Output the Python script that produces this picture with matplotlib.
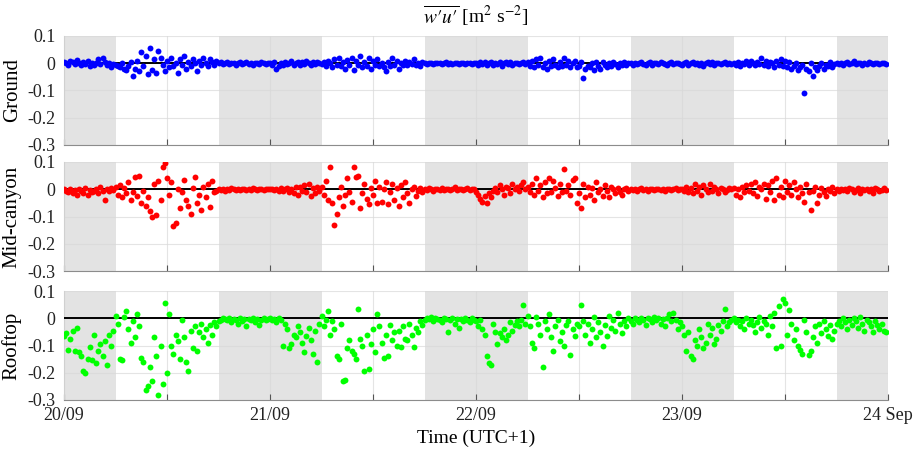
import matplotlib

matplotlib.use("Agg")
import matplotlib.pyplot as plt
import matplotlib.dates as mdates
import numpy as np
import pandas as pd

plt.rcParams["font.family"] = ["Liberation Serif", "DejaVu Serif"]
plt.rcParams["mathtext.fontset"] = "stix"
plt.rcParams["axes.unicode_minus"] = False

START = pd.Timestamp("2019-09-20 00:00")
BLOCK_HOURS = 6  # each inner list below is one 6 h block of 15 min samples

# w'u' in units of 1e-3 m2 s-2 (00-06, 06-12, 12-18, 18-24 each day)
ground_milli = [
    [5, 0, -5, 10, 3, -3, 12, 0, -8, 5, -2, 10, -10, 2, -5, 0, 15, -3, 20, 5, -8, 0, -15, -2],
    [-5, -10, -15, 0, -20, -25, -10, 5, -45, -20, 10, -30, 40, -10, 25, -40, 55, -25, 15, -35, 45, 20, -5, -30],
    [10, -15, 20, -10, 0, -35, 15, -5, 25, -20, 5, -10, 15, 0, -30, 10, -5, 20, 0, -10, 15, 5, -5, 10],
    [0, 3, -2, 0, 5, -3, 0, 2, -5, 0, 3, -2, 0, 4, -1, 0, -6, 2, 0, -3, 5, 0, -2, 1],
    [0, -5, 3, -20, -10, 2, -5, 5, -3, 0, 8, -5, 0, 5, -8, 3, -2, 10, 0, -5, 3, -3, 5, 0],
    [-3, 5, -10, 10, 0, -15, 15, -5, 20, -10, 5, -20, 12, -8, 18, -25, 10, -5, 25, -15, 5, -10, 20, -20],
    [10, -5, 15, -10, 0, -15, -30, 5, -10, 20, -5, 10, -20, 0, -5, 10, -8, 5, -3, 15, -5, 0, -10, 5],
    [0, -2, 2, 0, -3, 1, 0, 2, -2, 0, 3, -1, 0, -3, 2, 0, -2, 1, 0, -1, 2, 0, -2, 1],
    [0, -5, 3, -3, 5, -8, 0, 3, -5, 2, -3, 5, -10, 0, 3, -2, 5, -5, 0, 2, -3, 0, 5, -2],
    [5, -10, 10, -15, 15, -5, 20, -15, 0, -20, 10, -10, 15, -5, -15, 5, -10, 20, -5, 10, -12, 0, 8, -15],
    [-10, 5, -55, -20, -10, -15, 0, -25, 5, -10, -20, 3, -5, -15, 0, -10, 5, -3, -12, 0, -5, 3, -8, 0],
    [0, -5, 2, -3, 0, 5, -2, -8, 0, 3, -5, 0, 2, -3, 5, 0, -2, -6, 0, 3, -4, 0, 2, -2],
    [-5, 0, 3, -8, 0, 5, -3, 0, -5, 2, -10, 0, 3, -2, 5, -5, 0, 2, -3, 0, 5, -2, 0, -3],
    [0, -5, 5, -10, 0, -3, 8, -5, 10, 0, -8, 5, -3, 20, -5, 10, -10, 5, 0, -15, 10, -5, 15, -10],
    [10, -15, 5, -20, -10, 0, -25, -15, -5, -110, -20, -30, 0, -45, -15, -25, -10, 0, -20, -5, -10, 5, -15, -2],
    [0, -3, 2, -5, 0, 3, -2, 0, 10, -3, 0, 2, -5, 0, -2, 3, 0, -4, 2, 0, -3, 1, 0, -2],
]

midcanyon_milli = [
    [0, -5, -10, 2, -15, -3, -20, 0, -8, -12, 5, -20, -2, -10, -6, 0, -15, 10, -5, -40, 0, -8, 5, -3],
    [10, -20, 15, -30, 5, -15, 25, -40, -10, 45, -25, 50, -50, -5, -60, -30, -80, -100, 20, -95, 30, -40, 80, 95],
    [40, -20, 25, -135, -125, 0, -70, -10, 35, -40, -60, -90, 5, 45, -50, -20, -75, 10, -30, 20, -65, 30, -10, -5],
    [0, -3, 2, -5, 0, -2, 3, 0, -4, 1, -2, 0, 2, -3, 0, -1, 3, 0, -2, 1, 0, -3, 2, 0],
    [0, 2, -3, 0, -5, 3, -8, 0, 5, -10, 2, -15, 8, -20, 10, -5, 15, -10, 20, -25, 5, -15, 10, -5],
    [10, -20, 30, -40, 80, -50, -130, -90, -30, 10, -60, -20, 40, -10, -45, 80, 45, 50, -70, -15, 20, -35, -55, 5],
    [-20, 30, -50, 10, -45, 0, 25, -55, -10, 20, -40, 5, -60, 15, -30, 25, -15, -50, 0, 10, -25, -5, 5, -10],
    [0, -2, 3, 0, -5, 2, 0, -3, 5, -1, 0, 2, -4, 0, 10, -3, 0, 2, -1, 0, 3, -2, 0, 1],
    [-10, -20, -35, -45, -25, -50, -15, -30, -5, 5, -10, 15, 0, -20, 10, 5, -15, 20, 0, 10, -5, 15, 25, 0],
    [10, -10, 20, -20, 40, -5, 15, -30, 25, -15, 40, -10, 30, 5, -25, 20, -10, 75, -5, 15, -20, 35, 40, -50],
    [-15, -70, 20, -30, 10, -20, 5, -40, 25, -10, 0, -25, 15, -5, -30, 10, 0, -15, 5, -10, -20, 0, 5, -5],
    [0, -3, 2, -5, 0, 3, -2, 0, -8, 1, 0, -4, 2, 0, -3, 1, -6, 0, 2, -2, 0, 3, -1, 0],
    [0, -5, 10, -10, 5, -15, 20, -5, 10, -20, 15, 0, -10, 20, -5, 10, 0, -15, 5, 0, -10, -3, 5, 0],
    [5, -20, 0, -30, 10, -10, 15, -5, 20, -15, 25, -25, 10, 0, 20, -35, 15, -10, 30, -40, 40, -20, 10, -30],
    [30, -10, 15, -20, 25, 0, -30, 10, -15, -45, 20, -10, -75, -5, 10, -50, -20, 5, -10, -25, 0, -5, 10, -15],
    [0, -5, 2, -3, 0, -8, 3, 0, -10, -2, 5, -15, 0, -3, 2, -6, 0, -12, 3, 0, -5, -2, 5, -3],
]

rooftop_milli = [
    [-65, -55, -115, -75, -45, -120, -35, -125, -140, -195, -200, -150, -105, -155, -60, -165, -120, -95, -140, -85, -170, -60, -100, -45],
    [10, -20, -150, -155, 5, 25, -40, -90, -10, -70, 15, -30, -145, -160, -265, -250, -180, -230, -70, -140, -280, -100, -240, 55],
    [-200, 15, -100, -130, -60, -85, -150, -5, -70, -160, -195, -45, -110, -30, -120, -50, -20, -70, -40, -90, -25, -60, -15, -30],
    [-10, -5, 0, -2, -8, 0, -15, -3, -5, -20, 0, -10, -4, -30, -2, -6, 0, -12, -3, -25, -5, 0, -8, -2],
    [0, -5, -2, -15, 0, -8, -100, -20, -40, -110, -95, -60, -70, -30, -50, -90, -125, -65, -35, -80, -130, -45, -160, -20],
    [10, -30, -5, 25, -60, -10, -40, -140, -150, -20, -230, -225, -110, -80, -120, -130, -150, 35, -75, -100, -195, -60, -185, -95],
    [-40, -125, 15, -30, -90, -145, -60, -140, -25, -80, -50, -100, -45, -105, -30, -75, -80, -20, -60, -105, -35, -50, -10, -25],
    [-5, 0, -3, 5, -10, 0, -2, -8, -15, 0, -4, -50, -6, 0, -20, -3, -35, -2, -10, 0, -5, -15, 0, -8],
    [-10, -30, -5, -40, -60, -140, -165, -170, -20, -50, -95, -55, -70, -40, -80, -60, -15, -45, -25, -10, -30, -5, 50, -20],
    [10, -30, -90, -110, 5, -20, -60, -180, -10, -40, 15, -70, -120, -30, -5, -85, -50, -100, -25, -10, -135, -40, -65, -20],
    [-30, 50, -10, -60, -20, -90, -40, 5, -70, -15, -50, -100, -25, -65, 10, -35, -5, -45, 20, -20, -55, -10, -30, 0],
    [-10, -20, 0, -5, -15, 2, -8, -25, 0, -3, -12, 5, -6, 0, -20, -2, -30, 0, 15, -10, 20, -5, -40, -15],
    [-30, -60, -120, -50, -140, -150, -80, -100, -40, -70, -110, -90, -20, -60, -35, -95, -75, -25, -45, -10, 35, -30, -15, -5],
    [0, -15, -5, -30, -10, -40, 0, -20, -5, -25, -50, -15, 5, -35, -10, -20, -60, 10, -30, 20, -110, 45, -100, 70],
    [55, -60, 30, -20, -80, -40, -100, -115, -130, -5, -50, -135, -120, -70, -30, -90, -20, -55, -10, -40, -65, -25, -75, -45],
    [-20, -10, -30, 0, -15, -40, -5, -25, 0, -10, -35, 5, -20, -45, -8, -15, -30, -50, -10, -25, -40, -20, -45, -50],
]

panel_names = ["Ground", "Mid-canyon", "Rooftop"]
panel_colors = ["#0000ff", "#ff0000", "#00ff00"]
night_hours = [(0, 6), (18, 30), (42, 54), (66, 78), (90, 96)]
day_labels = ["20/09", "21/09", "22/09", "23/09", "24 Sep"]
yticks = [0.1, 0, -0.1, -0.2, -0.3]


def to_series(blocks):
    times, values = [], []
    for b, block in enumerate(blocks):
        step = pd.Timedelta(hours=BLOCK_HOURS) / len(block)
        t0 = START + pd.Timedelta(hours=BLOCK_HOURS * b)
        times.extend(t0 + k * step for k in range(len(block)))
        values.extend(v / 1000.0 for v in block)
    return pd.DatetimeIndex(times), np.array(values)


series = [to_series(s) for s in (ground_milli, midcanyon_milli, rooftop_milli)]

fig = plt.figure(figsize=(9.19, 4.54), dpi=100)
left, width = 64 / 919, 824 / 919
tops = [36, 162, 291]
h_px = 109
axes = [fig.add_axes([left, 1 - (t + h_px) / 454, width, h_px / 454]) for t in tops]

x0 = mdates.date2num(START)
x1 = mdates.date2num(START + pd.Timedelta(days=4))

for ax, name, color, (t, v) in zip(axes, panel_names, panel_colors, series):
    for a, b in night_hours:
        ax.axvspan(START + pd.Timedelta(hours=a), START + pd.Timedelta(hours=b),
                   color="#e3e3e3", lw=0, zorder=0)
    ax.set_xlim(x0, x1)
    ax.set_ylim(-0.3, 0.1)
    ax.set_yticks(yticks)
    ax.set_yticklabels(["0.1", "0", "-0.1", "-0.2", "-0.3"])
    ax.xaxis.set_major_locator(mdates.HourLocator(byhour=[0, 12]))
    ax.grid(True, color="#d9d9d9", lw=0.8, alpha=0.7, zorder=1)
    ax.set_axisbelow(True)
    ax.axhline(0, color="black", lw=1.4, zorder=3)
    ax.scatter(t, v, s=18, color=color, lw=0, zorder=4)
    ax.set_ylabel(name, fontsize=15, labelpad=4)
    ax.tick_params(axis="both", labelsize=13, direction="in", colors="#555555",
                   labelcolor="#222222")
    ax.tick_params(axis="y", length=0, pad=6)
    ax.tick_params(axis="x", length=4, pad=5)
    for side in ("top", "right"):
        ax.spines[side].set_visible(False)
    ax.spines["left"].set_color("#d0d0d0")
    ax.spines["bottom"].set_color("#8c8c8c")
    if ax is axes[-1]:
        ticks = [START + pd.Timedelta(hours=12 * k) for k in range(9)]
        ax.set_xticks(ticks)
        ax.set_xticklabels([day_labels[k // 2] if k % 2 == 0 else "" for k in range(9)])
    else:
        ax.set_xticklabels([])

axes[0].set_title("$\\overline{w\u2032u\u2032}$ [m$^2$ s$^{-2}$]", fontsize=14, pad=9)
axes[-1].set_xlabel("Time (UTC+1)", fontsize=14, labelpad=4)

fig.savefig("out.png", dpi=100)
